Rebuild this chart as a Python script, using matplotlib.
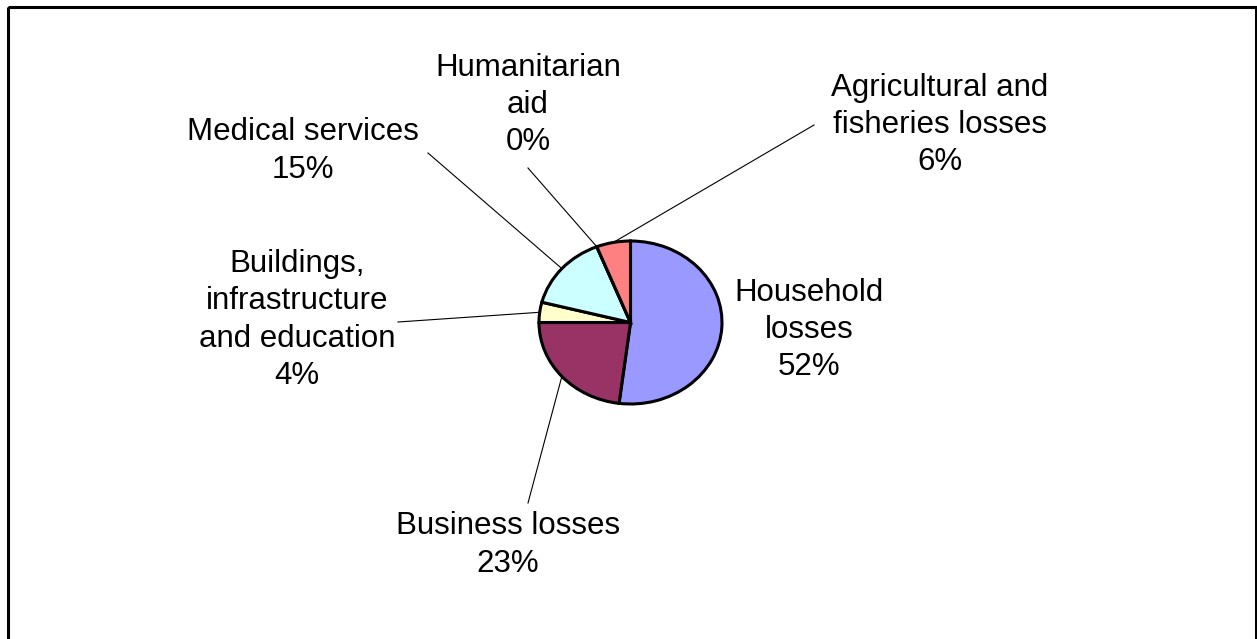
import numpy as np
import matplotlib
matplotlib.use('Agg')
import matplotlib.pyplot as plt
from matplotlib.patches import Rectangle

plt.rcParams['font.family'] = ['Liberation Sans', 'DejaVu Sans']

# loss categories, clockwise from 12 o'clock
categories = ['Household\nlosses', 'Business losses', 'Buildings,\ninfrastructure\nand education',
              'Medical services', 'Humanitarian\naid', 'Agricultural and\nfisheries losses']
shares = [52, 23, 4, 15, 0, 6]
colors = ['#9999FF', '#993366', '#FFFFCC', '#CCFFFF', '#660066', '#FF8080']

W, H = 1257, 639
fig = plt.figure(figsize=(W / 100, H / 100), dpi=100)

# overlay axes in pixel units for frame, labels and leader lines
ax = fig.add_axes([0, 0, 1, 1])
ax.set_xlim(0, W)
ax.set_ylim(H, 0)
ax.axis('off')
ax.add_patch(Rectangle((7.5, 6.5), 1248, 660, fill=False, edgecolor='black', lw=2.2))

# pie box (pixels) - slightly squashed vertically
left, right, top, bottom = 539, 722, 241, 404
cx, cy = (left + right) / 2, (top + bottom) / 2
rx, ry = (right - left) / 2, (bottom - top) / 2

pax = fig.add_axes([left / W, 1 - bottom / H, (right - left) / W, (bottom - top) / H])
wedges, _ = pax.pie(shares, colors=colors, startangle=90, counterclock=False, radius=1,
                    wedgeprops=dict(edgecolor='black', linewidth=2.2))
pax.set_aspect('auto')
pax.set_xlim(-1, 1)
pax.set_ylim(-1, 1)
pax.axis('off')

# label centre, and where the leader line starts (None = no leader)
label_pos = [(809, 330), (508, 545), (297, 320), (303, 151), (528, 105), (940, 125)]
leader_start = [None, (528, 503), (398, 322), (428, 153), (528, 168), (814, 125)]

for w, name, val, (lx, ly), ls in zip(wedges, categories, shares, label_pos, leader_start):
    ax.text(lx, ly, f'{name}\n{val}%', ha='center', va='center', fontsize=22.5,
            linespacing=1.31, color='black')
    if ls is not None:
        mid = np.deg2rad((w.theta1 + w.theta2) / 2)
        ex = cx + rx * np.cos(mid)
        ey = cy - ry * np.sin(mid)
        ax.plot([ls[0], ex], [ls[1], ey], color='black', lw=0.8)

fig.savefig('out.png', dpi=100)
